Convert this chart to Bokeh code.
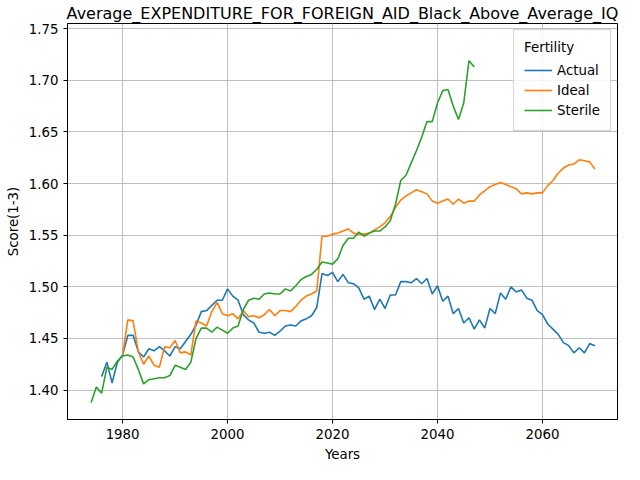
from bokeh.plotting import figure
from bokeh.models import Range1d, Legend, LegendItem, SingleIntervalTicker, NumeralTickFormatter
from bokeh.embed import file_html
from bokeh.resources import INLINE

years_actual = list(range(1976, 2071))
actual = [1.413, 1.427, 1.407, 1.427, 1.434, 1.453, 1.453, 1.437, 1.432, 1.440,
          1.438, 1.442, 1.438, 1.433, 1.442, 1.440, 1.447, 1.454, 1.463, 1.476,
          1.477, 1.482, 1.487, 1.487, 1.498, 1.491, 1.487, 1.473, 1.468, 1.465,
          1.456, 1.455, 1.456, 1.453, 1.457, 1.462, 1.463, 1.462, 1.467, 1.469,
          1.472, 1.480, 1.513, 1.511, 1.514, 1.505, 1.512, 1.504, 1.503, 1.499,
          1.488, 1.491, 1.478, 1.488, 1.479, 1.492, 1.492, 1.505, 1.505, 1.504,
          1.508, 1.503, 1.508, 1.493, 1.501, 1.486, 1.491, 1.474, 1.479, 1.465,
          1.470, 1.459, 1.468, 1.460, 1.479, 1.474, 1.494, 1.488, 1.500, 1.495,
          1.497, 1.489, 1.487, 1.477, 1.473, 1.464, 1.459, 1.454, 1.446, 1.443,
          1.436, 1.441, 1.436, 1.445, 1.443]

years_ideal = list(range(1980, 2071))
ideal = [1.434, 1.468, 1.467, 1.437, 1.425, 1.433, 1.424, 1.422, 1.442, 1.441,
         1.448, 1.436, 1.437, 1.434, 1.467, 1.465, 1.462, 1.476, 1.485, 1.474,
         1.472, 1.474, 1.469, 1.477, 1.471, 1.472, 1.470, 1.473, 1.478, 1.472,
         1.477, 1.477, 1.476, 1.481, 1.487, 1.491, 1.493, 1.496, 1.549, 1.549,
         1.551, 1.552, 1.554, 1.556, 1.552, 1.551, 1.551, 1.552, 1.555, 1.558,
         1.562, 1.568, 1.577, 1.584, 1.588, 1.591, 1.594, 1.592, 1.590, 1.583,
         1.581, 1.583, 1.585, 1.580, 1.585, 1.581, 1.583, 1.583, 1.589, 1.593,
         1.597, 1.599, 1.601, 1.599, 1.597, 1.595, 1.590, 1.591, 1.590, 1.591,
         1.591, 1.598, 1.603, 1.610, 1.615, 1.618, 1.619, 1.623, 1.622, 1.621,
         1.614]

years_sterile = list(range(1974, 2048))
sterile = [1.388, 1.403, 1.397, 1.422, 1.420, 1.428, 1.433, 1.434, 1.432, 1.420,
           1.406, 1.410, 1.411, 1.412, 1.412, 1.414, 1.424, 1.422, 1.420, 1.427,
           1.450, 1.460, 1.460, 1.456, 1.461, 1.458, 1.455, 1.460, 1.462, 1.478,
           1.487, 1.489, 1.488, 1.493, 1.494, 1.493, 1.493, 1.498, 1.496, 1.501,
           1.507, 1.510, 1.512, 1.517, 1.524, 1.523, 1.522, 1.527, 1.540, 1.547,
           1.547, 1.553, 1.549, 1.552, 1.554, 1.554, 1.558, 1.564, 1.580, 1.603,
           1.608, 1.620, 1.632, 1.645, 1.660, 1.660, 1.678, 1.690, 1.691, 1.675,
           1.662, 1.678, 1.719, 1.713]

FONT = "DejaVu Sans"

p = figure(width=624, height=464, output_backend="svg", toolbar_location=None,
           x_range=Range1d(1969.5, 2074.3), y_range=Range1d(1.3715, 1.755),
           min_border_left=67, min_border_right=7, min_border_top=0, min_border_bottom=42,
           title="Average_EXPENDITURE_FOR_FOREIGN_AID_Black_Above_Average_IQ")
p.title.text_font = FONT
p.title.text_font_size = "12pt"
p.title.text_font_style = "normal"
p.title.text_color = "black"
p.title.align = "center"
p.title.standoff = 2

p.outline_line_color = "black"
p.xaxis.axis_label = "Years"
p.yaxis.axis_label = "Score(1-3)"
for ax in (p.xaxis, p.yaxis):
    ax.axis_label_text_font = FONT
    ax.axis_label_text_font_style = "normal"
    ax.axis_label_text_font_size = "10pt"
    ax.axis_label_text_color = "black"
    ax.major_label_text_font = FONT
    ax.major_label_text_font_size = "10pt"
    ax.major_label_text_color = "black"
    ax.axis_line_color = "black"
    ax.major_tick_line_color = "black"
    ax.minor_tick_line_color = None
    ax.major_tick_in = 0
    ax.major_tick_out = 4
p.xaxis.ticker = SingleIntervalTicker(interval=20)
p.yaxis.ticker = SingleIntervalTicker(interval=0.05)
p.yaxis.formatter = NumeralTickFormatter(format="0.00")
p.grid.grid_line_color = "#b0b0b0"
p.grid.grid_line_width = 0.8

r1 = p.line(years_actual, actual, color="#1f77b4", line_width=1.6)
r2 = p.line(years_ideal, ideal, color="#ff7f0e", line_width=1.6)
r3 = p.line(years_sterile, sterile, color="#2ca02c", line_width=1.6)

legend = Legend(items=[LegendItem(label="Actual", renderers=[r1]),
                       LegendItem(label="Ideal", renderers=[r2]),
                       LegendItem(label="Sterile", renderers=[r3])],
                location="top_right", title="Fertility")
legend.title_text_font = FONT
legend.title_text_font_size = "10pt"
legend.title_text_font_style = "normal"
legend.title_text_color = "black"
legend.label_text_font = FONT
legend.label_text_font_size = "10pt"
legend.label_text_color = "black"
legend.border_line_color = "#cccccc"
legend.border_line_alpha = 0.8
legend.background_fill_alpha = 0.8
legend.spacing = 0
legend.glyph_width = 28
legend.margin = 6
p.add_layout(legend)

open("out.html", "w").write(file_html(p, INLINE))
